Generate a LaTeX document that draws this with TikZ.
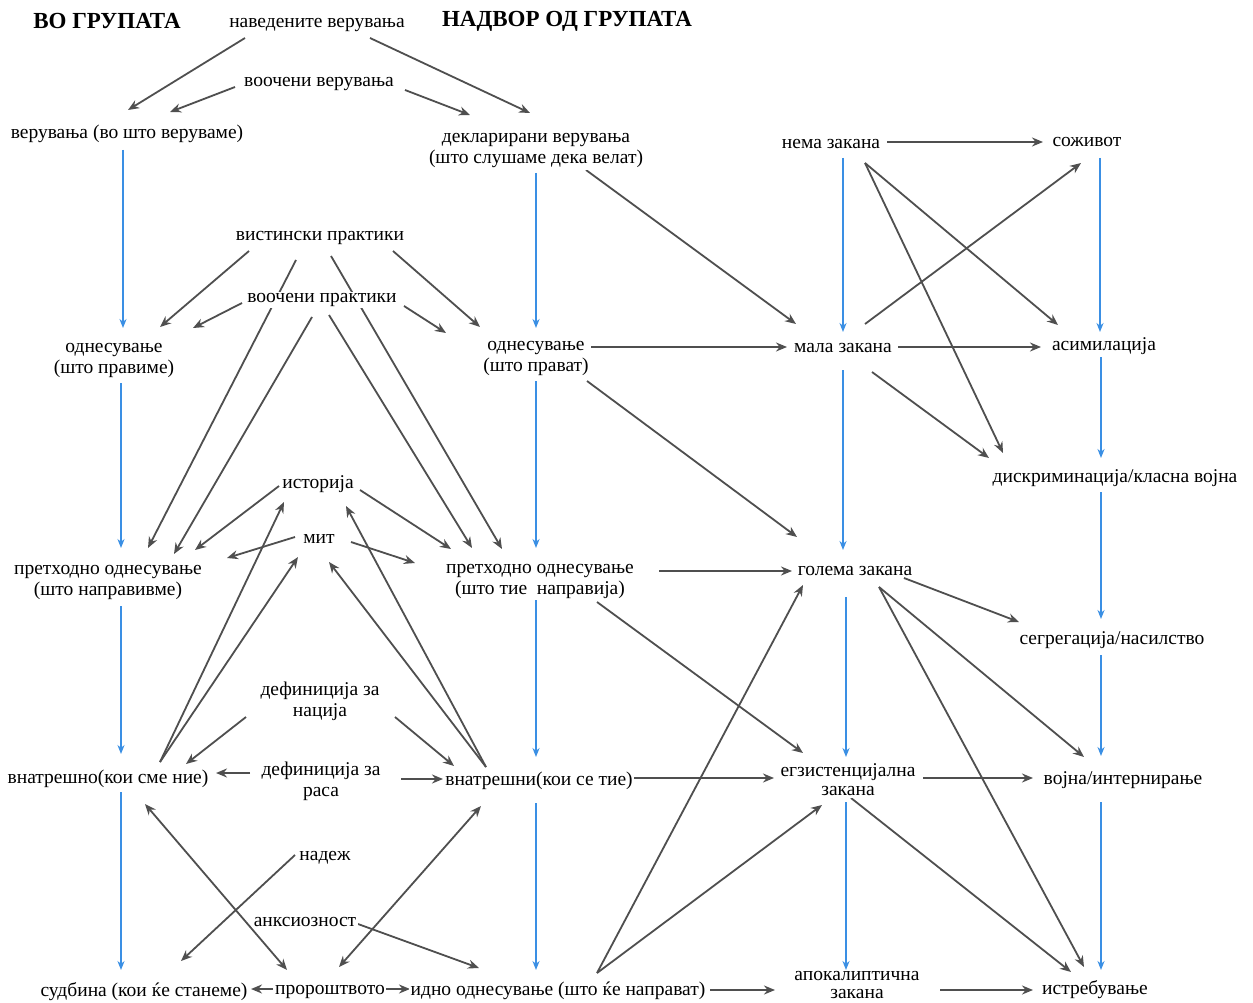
\documentclass[tikz,border=0pt]{standalone}
\usepackage{fontspec}
\setmainfont{Liberation Serif}
\usetikzlibrary{arrows.meta,calc,backgrounds}
\definecolor{gr}{HTML}{4F4F4F}
\definecolor{bl}{HTML}{3A8FE4}
\newcommand\grarrow[4]{\draw[ga] ($(#1)+(0,-3)+#2$) -- ($(#3)+(0,-3)+#4$);}
\newcommand\grboth[4]{\draw[gb] ($(#1)+(0,-3)+#2$) -- ($(#3)+(0,-3)+#4$);}
\newcommand\blarrow[4]{\draw[ba] ($(#1)+(0,-3)+#2$) -- ($(#3)+(0,-3)+#4$);}
\begin{document}
\begin{tikzpicture}[x=1pt,y=-1pt,
  lab/.style={fill=white,inner sep=1.5pt,yshift=-3pt,font=\fontsize{19.5}{21}\selectfont,align=center},
  ttl/.style={inner sep=0pt,font=\fontsize{23}{26}\selectfont\bfseries},
  ga/.style={draw=gr,line width=1.8pt,-{Stealth[length=11pt,width=9pt]}},
  gb/.style={draw=gr,line width=1.8pt,{Stealth[length=11pt,width=9pt]}-{Stealth[length=11pt,width=9pt]}},
  ba/.style={draw=bl,line width=1.5pt,-{Stealth[length=9pt,width=7pt]}}]
\useasboundingbox (0,0) rectangle (1253,1003);
% titles
\node[ttl] (t1) at (107,21) {ВО ГРУПАТА};
\node[ttl] (t2) at (567,21) {НАДВОР ОД ГРУПАТА};
% nodes
\node[lab] (nav) at (317,22) {наведените верувања};
\node[lab] (vv) at (319,81) {воочени верувања};
\node[lab] (ver) at (127,131) {верувања (во што веруваме)};
\node[lab] (dek) at (536,148) {декларирани верувања\\(што слушаме дека велат)};
\node[lab] (nema) at (831,141) {нема закана};
\node[lab] (soz) at (1087,139) {соживот};
\node[lab] (vist) at (320,235) {вистински практики};
\node[lab] (vp) at (322,297) {воочени практики};
\node[lab] (odn1) at (114,357) {однесување\\(што правиме)};
\node[lab] (odn2) at (536,355) {однесување\\(што прават)};
\node[lab] (mala) at (843,345) {мала закана};
\node[lab] (asim) at (1104,343) {асимилација};
\node[lab] (disk) at (1115,475) {дискриминација/класна војна};
\node[lab] (ist) at (318,481) {историја};
\node[lab] (mit) at (319,536) {мит};
\node[lab] (pr1) at (108,579) {претходно однесување\\(што направивме)};
\node[lab] (pr2) at (540,578) {претходно однесување\\(што тие\ \ направија)};
\node[lab] (gol) at (855,568) {голема закана};
\node[lab] (seg) at (1112,637) {сегрегација/насилство};
\node[lab] (defn) at (320,698) {дефиниција за\\нација};
\node[lab] (defr) at (321,778) {дефиниција за\\раса};
\node[lab] (vn1) at (108,776) {внатрешно(кои сме ние)};
\node[lab] (vn2) at (539,778) {внатрешни(кои се тие)};
\node[lab,font=\fontsize{19.5}{19}\selectfont] (egz) at (848,777) {егзистенцијална\\закана};
\node[lab] (voj) at (1123,777) {војна/интернирање};
\node[lab] (nad) at (325,855) {надеж};
\node[lab] (anx) at (305,919) {анксиозност};
\node[lab] (sud) at (144,989) {судбина (кои ќе станеме)};
\node[lab] (pro) at (330,989) {пророштвото};
\node[lab] (ido) at (558,988) {идно однесување (што ќе направат)};
\node[lab,font=\fontsize{19.5}{17.5}\selectfont,inner ysep=0pt] (apo) at (857,982) {апокалиптична\\закана};
\node[lab] (istr) at (1095,987) {истребување};
\begin{scope}[on background layer]
\fill[white] (0,0) rectangle (1253,1003);
% gray arrows
\grarrow{nav}{(-72,16)}{ver}{(1,-21)}
\grarrow{vv}{(-84,6)}{ver}{(43,-19)}
\grarrow{vv}{(86,9)}{dek}{(-66,-33)}
\grarrow{nav}{(53,16)}{dek}{(-6,-35)}
\grarrow{dek}{(50,22)}{mala}{(-47,-21)}
\grarrow{nema}{(56,1)}{soz}{(-44,3)}
\grarrow{nema}{(34,22)}{asim}{(-46,-18)}
\grarrow{nema}{(34,22)}{disk}{(-112,-22)}
\grarrow{mala}{(22,-21)}{soz}{(-6,24)}
\grarrow{mala}{(55,2)}{asim}{(-63,4)}
\grarrow{mala}{(29,27)}{disk}{(-126,-17)}
\grarrow{odn2}{(55,-8)}{mala}{(-56,2)}
\grarrow{odn2}{(51,26)}{gol}{(-58,-31)}
\grarrow{vist}{(-71,16)}{odn1}{(46,-30)}
\grarrow{vist}{(73,16)}{odn2}{(-56,-28)}
\grarrow{vp}{(-80,6)}{odn1}{(79,-29)}
\grarrow{vp}{(82,9)}{odn2}{(-90,-22)}
\grarrow{vist}{(-24,25)}{pr1}{(40,-31)}
\grarrow{vist}{(11,21)}{pr2}{(-38,-29)}
\grarrow{vp}{(7,18)}{pr2}{(-68,-30)}
\grarrow{vp}{(-10,20)}{pr1}{(66,-25)}
\grarrow{ist}{(-39,5)}{pr1}{(87,-29)}
\grarrow{ist}{(42,9)}{pr2}{(-89,-29)}
\grarrow{mit}{(-24,1)}{pr1}{(119,-21)}
\grarrow{mit}{(32,6)}{pr2}{(-125,-15)}
\grarrow{vn1}{(52,-14)}{ist}{(-34,21)}
\grarrow{vn1}{(52,-14)}{mit}{(-21,21)}
\grarrow{vn2}{(-53,-11)}{ist}{(28,25)}
\grarrow{vn2}{(-53,-11)}{mit}{(10,26)}
\grarrow{defn}{(-74,19)}{vn1}{(78,-12)}
\grarrow{defn}{(75,19)}{vn2}{(-85,-12)}
\grarrow{defr}{(-71,-5)}{vn1}{(108,-3)}
\grarrow{defr}{(80,1)}{vn2}{(-96,1)}
\grarrow{nad}{(-30,0)}{sud}{(37,-28)}
\grboth{vn1}{(37,28)}{pro}{(-43,-19)}
\grboth{vn2}{(-58,28)}{pro}{(9,-22)}
\grarrow{anx}{(53,5)}{ido}{(-79,-20)}
\grarrow{pro}{(-57,0)}{sud}{(107,0)}
\grarrow{pro}{(54,0)}{ido}{(-148,1)}
\grarrow{ido}{(152,2)}{apo}{(-82,8)}
\grarrow{apo}{(83,8)}{istr}{(-62,3)}
\grarrow{ido}{(39,-15)}{gol}{(-52,17)}
\grarrow{ido}{(39,-15)}{egz}{(-26,28)}
\grarrow{pr2}{(119,-7)}{gol}{(-63,3)}
\grarrow{pr2}{(57,24)}{egz}{(-45,-24)}
\grarrow{gol}{(49,10)}{seg}{(-93,-15)}
\grarrow{gol}{(24,19)}{voj}{(-39,-20)}
\grarrow{gol}{(24,19)}{istr}{(-11,-20)}
\grarrow{egz}{(75,1)}{voj}{(-90,1)}
\grarrow{egz}{(3,21)}{istr}{(-24,-15)}
\grarrow{vn2}{(95,0)}{egz}{(-74,1)}
% blue arrows
\blarrow{ver}{(-4,19)}{odn1}{(9,-29)}
\blarrow{odn1}{(7,26)}{pr1}{(13,-31)}
\blarrow{pr1}{(13,27)}{vn1}{(13,-22)}
\blarrow{vn1}{(13,16)}{sud}{(-23,-19)}
\blarrow{dek}{(0,25)}{odn2}{(0,-27)}
\blarrow{odn2}{(0,26)}{pr2}{(-4,-30)}
\blarrow{pr2}{(-4,22)}{vn2}{(-3,-21)}
\blarrow{vn2}{(-3,25)}{ido}{(-22,-18)}
\blarrow{nema}{(12,17)}{mala}{(0,-13)}
\blarrow{mala}{(0,25)}{gol}{(-12,-18)}
\blarrow{gol}{(-9,29)}{egz}{(-2,-20)}
\blarrow{egz}{(-2,25)}{apo}{(-11,-12)}
\blarrow{soz}{(13,19)}{asim}{(-4,-11)}
\blarrow{asim}{(-3,14)}{disk}{(-14,-17)}
\blarrow{disk}{(-14,17)}{seg}{(-11,-18)}
\blarrow{seg}{(-11,18)}{voj}{(-22,-21)}
\blarrow{voj}{(-22,25)}{istr}{(6,-17)}
\end{scope}
\end{tikzpicture}
\end{document}
